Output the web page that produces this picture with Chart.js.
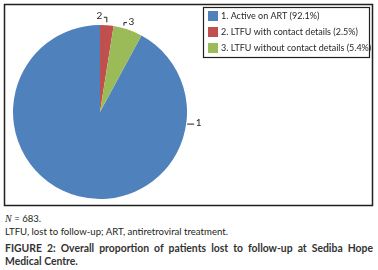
<!DOCTYPE html>
<html>
<head>
<meta charset="utf-8">
<script src="https://cdn.jsdelivr.net/npm/chart.js@4.4.1/dist/chart.umd.min.js"></script>
<style>
  body { margin: 0; width: 378px; height: 270px; background: #fff; overflow: hidden; position: relative;
         font-family: Lato, "Open Sans", sans-serif; color: #231f20; }
  #chart { position: absolute; left: 0; top: 0; }
  .note { position: absolute; left: 5px; font-size: 9.6px; white-space: nowrap; }
  .note i { font-family: "Liberation Serif", serif; font-size: 10px; }
  .cap { position: absolute; left: 5px; top: 242px; width: 368px; font-size: 10.4px; line-height: 12.5px;
         text-align: justify; font-weight: 700; color: #333; }
</style>
</head>
<body>
<canvas id="chart" width="378" height="210"></canvas>
<div class="note" style="top:213px"><i>N</i> = 683.</div>
<div class="note" style="top:226px">LTFU, lost to follow-up; ART, antiretroviral treatment.</div>
<div class="cap">FIGURE 2: Overall proportion of patients lost to follow-up at Sediba Hope Medical Centre.</div>

<script>
// données
const legendLabels = ['1. Active on ART (92.1%)', '2. LTFU with contact details (2.5%)', '3. LTFU without contact details (5.4%)'];
const sliceNames = ['1', '2', '3'];
const percentages = [92.1, 2.5, 5.4];
const sliceColours = ['#4F81BD', '#C0504D', '#9BBB59'];

// Excel place la fin de la première part en haut
const startRotation = 360 - percentages[0] * 3.6;

// angle (depuis le haut, en degrés) où part chaque trait de repère, et forme du trait
const labelAngles = [98, null, null];
const leaderPaths = [
    [[1, 0], [8, 0]],
    [[0, -3], [0, -8], [-3, -8]],
    [[-4, -4], [-4, -7], [-1, -7]]
];
const textAlign = ['left', 'right', 'left'];

const ink = '#231f20';

// étiquettes 1, 2, 3 avec leurs traits
const sliceLabels = {
    id: 'sliceLabels',
    afterDatasetsDraw(chart) {
        const ctx = chart.ctx;
        const arcs = chart.getDatasetMeta(0).data;
        ctx.save();
        ctx.strokeStyle = ink;
        ctx.fillStyle = ink;
        ctx.lineWidth = 1;
        ctx.font = '10px Lato, sans-serif';
        ctx.textBaseline = 'middle';
        arcs.forEach((arc, i) => {
            const p = arc.getProps(['x', 'y', 'startAngle', 'endAngle', 'outerRadius']);
            let a = (p.startAngle + p.endAngle) / 2;
            if (labelAngles[i] !== null) a = (labelAngles[i] - 90) * Math.PI / 180;
            const ax = p.x + Math.cos(a) * p.outerRadius;
            const ay = p.y + Math.sin(a) * p.outerRadius;
            const path = leaderPaths[i];
            ctx.beginPath();
            ctx.moveTo(ax + path[0][0], ay + path[0][1]);
            for (let k = 1; k < path.length; k++) ctx.lineTo(ax + path[k][0], ay + path[k][1]);
            ctx.stroke();
            const end = path[path.length - 1];
            ctx.textAlign = textAlign[i];
            const tx = ax + end[0] + (textAlign[i] === 'left' ? 1.5 : -1.5);
            ctx.fillText(sliceNames[i], tx, ay + end[1] - 1);
        });
        ctx.restore();
    }
};

// cadre et légende encadrée
const frameLegend = {
    id: 'frameLegend',
    afterDraw(chart) {
        const ctx = chart.ctx;
        ctx.save();
        ctx.strokeStyle = ink;
        ctx.lineWidth = 1.5;
        ctx.strokeRect(4.5, 4.5, 368, 201);
        ctx.lineWidth = 1.2;
        ctx.strokeRect(203.5, 7.5, 166, 50);
        ctx.font = '9px Lato, sans-serif';
        ctx.textBaseline = 'middle';
        ctx.fillStyle = ink;
        legendLabels.forEach((lab, i) => {
            ctx.fillStyle = sliceColours[i];
            ctx.fillRect(208, 11 + i * 16, 10, 10);
            ctx.fillStyle = ink;
            ctx.fillText(lab, 221, 16.5 + i * 16);
        });
        ctx.restore();
    }
};

new Chart(document.getElementById('chart'), {
    type: 'pie',
    data: {
        labels: legendLabels,
        datasets: [{
            data: percentages,
            backgroundColor: sliceColours,
            borderWidth: 0
        }]
    },
    options: {
        responsive: false,
        animation: false,
        rotation: startRotation,
        layout: { padding: { left: 13, top: 25, right: 191, bottom: 11 } },
        plugins: {
            legend: { display: false },
            tooltip: { enabled: false }
        }
    },
    plugins: [sliceLabels, frameLegend]
});
</script>
</body>
</html>
